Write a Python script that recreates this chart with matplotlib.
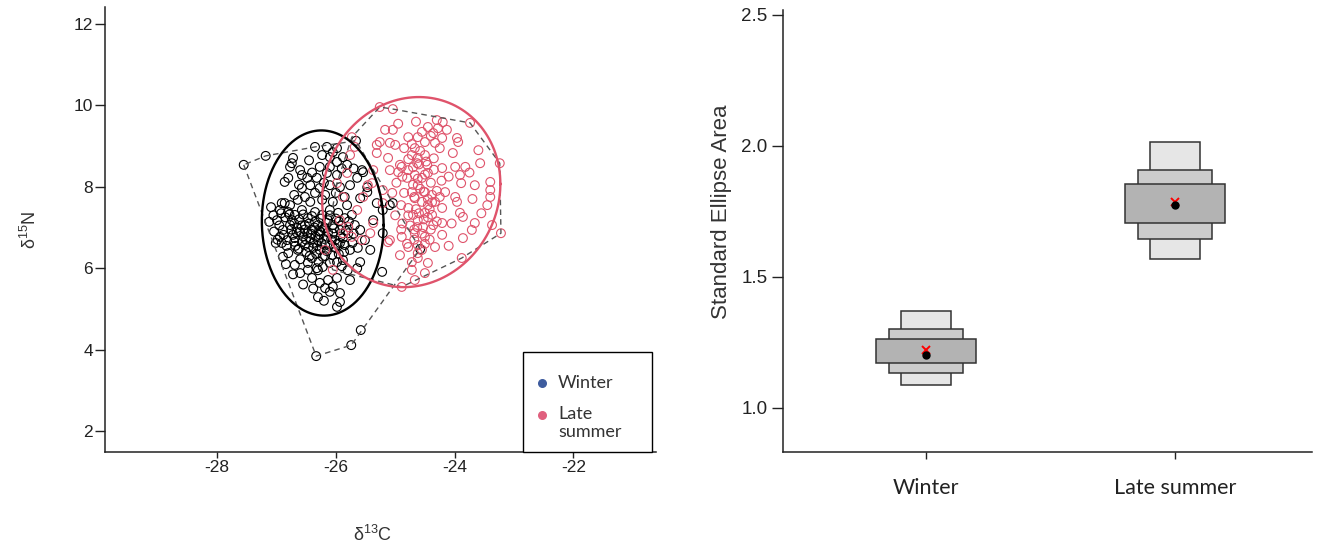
import numpy as np
import matplotlib
matplotlib.use("Agg")
import matplotlib.pyplot as plt
from matplotlib.patches import Rectangle

plt.rcParams["font.family"] = ["Liberation Sans", "DejaVu Sans"]
plt.rcParams["mathtext.default"] = "regular"
plt.rcParams["axes.unicode_minus"] = False

# ==========================
# Stable isotope values per sample
# ==========================
winter_d13c = [
    -27.55, -27.18, -26.35, -25.66, -24.58, -25.58, -25.74, -26.33,
    -26.15, -25.98, -26.23, -26.10, -26.72, -26.74, -26.77, -25.98, -25.88, -25.81,
    -26.10, -26.27, -26.60, -26.57, -26.48, -26.32, -26.15, -25.98, -26.86, -26.80,
    -26.43, -26.57, -26.27, -26.10, -25.93, -25.76, -25.64, -25.54, -25.47, -25.59,
    -26.91, -26.77, -26.64, -26.43, -26.23, -26.05, -25.81,
    -25.37, -25.31, -25.47, -25.56, -25.21, -25.09, -25.21, -25.22, -25.04, -25.59,
    -25.51, -25.42,
    -27.09, -27.12, -27.01, -26.94, -26.99, -26.89, -26.94,
    -26.80, -26.69, -26.57, -26.47, -26.35, -26.23, -26.10, -25.96, -25.85, -25.73,
    -26.77, -26.65, -26.52, -26.40, -26.30, -26.18, -26.05, -25.93, -25.79, -25.68,
    -26.82, -26.69, -26.57, -26.43, -26.30, -26.15, -26.01, -25.88, -26.72, -26.48,
    -26.27, -26.10, -25.93, -25.76, -25.63, -26.91, -26.80, -26.64, -26.38, -26.18,
    -26.01, -26.74, -26.60, -26.35, -26.13, -26.52, -26.27, -25.85,
    -26.89, -26.84, -26.60, -26.47, -26.40, -26.32, -26.22, -26.10, -25.98, -25.88,
    -26.27, -26.13, -25.98, -26.18, -26.10, -25.93, -26.30, -25.93, -25.98, -25.76,
    -25.64, -25.59, -26.06, -26.22, -26.40, -26.47, -26.69,
    -26.62, -26.45, -26.28, -26.55, -26.38, -26.20, -26.05, -26.68, -26.50, -26.33,
    -26.15, -25.95, -26.75, -26.58, -26.42, -26.25, -26.10, -25.95, -26.85, -26.70,
    -26.95, -26.88, -26.83, -26.78, -26.70, -26.66, -26.62, -26.60, -26.55, -26.52,
    -26.50, -26.46, -26.44, -26.40, -26.36, -26.34, -26.31, -26.29, -26.26, -26.24,
    -26.20, -26.18, -26.16, -26.13, -26.11, -26.08, -26.03, -26.00, -25.97, -25.92,
    -25.90, -25.86, -25.83, -25.78, -25.72, -25.70, -26.92, -26.98, -27.04, -27.05,
    -26.86, -26.70, -26.52, -26.35, -26.18, -26.00, -25.85, -26.62, -26.40, -26.20,
    -25.70, -25.90, -26.45, -26.05, -26.55, -26.38, -26.20, -26.05, -25.80, -26.72,
    -26.30, -25.90,
]
winter_d15n = [
    8.54, 8.76, 8.98, 9.13, 6.47, 4.48, 4.11, 3.84,
    8.98, 8.95, 8.78, 8.73, 8.71, 8.58, 8.49, 8.61, 8.73, 8.54,
    8.49, 8.49, 8.41, 8.29, 8.22, 8.22, 8.34, 8.29, 8.12, 8.22,
    8.04, 7.97, 7.97, 8.04, 7.99, 8.04, 8.22, 8.36, 7.87, 7.72,
    7.60, 7.55, 7.68, 7.63, 7.68, 7.63, 7.55,
    7.18, 7.60, 7.99, 8.41, 7.43, 7.55, 6.86, 5.91, 7.60, 6.94,
    6.69, 6.45,
    7.50, 7.14, 6.62, 7.43, 7.18, 6.94, 6.77,
    7.38, 7.31, 7.43, 7.23, 7.38, 7.31, 7.43, 7.36, 7.23, 7.31,
    7.06, 6.99, 7.06, 6.94, 7.06, 6.99, 7.06, 6.94, 6.86, 7.06,
    6.69, 6.74, 6.64, 6.74, 6.69, 6.77, 6.69, 6.74, 6.82, 6.86,
    6.82, 6.59, 6.62, 6.45, 6.50, 6.62, 6.37, 6.45, 6.50, 6.57,
    6.50, 7.18, 6.89, 7.14, 7.18, 6.57, 6.45, 6.57,
    6.28, 6.10, 5.88, 5.96, 5.76, 6.00, 6.03, 6.13, 6.15, 6.20,
    5.64, 5.71, 5.76, 5.51, 5.42, 5.39, 5.29, 5.17, 5.05, 5.71,
    6.00, 6.15, 6.32, 6.28, 6.25, 6.13, 6.08,
    7.20, 7.10, 6.92, 6.78, 6.62, 6.72, 6.85, 6.55, 6.40, 6.35,
    6.42, 6.35, 6.95, 7.05, 6.85, 7.22, 7.30, 7.15, 7.25, 6.65,
    7.05, 6.82, 6.55, 7.32, 7.10, 6.88, 6.48, 6.22, 7.32, 6.95,
    6.70, 6.52, 6.30, 7.28, 7.00, 6.78, 6.55, 6.16, 6.90, 6.62,
    6.98, 6.30, 7.12, 6.88, 6.55, 6.70, 6.98, 7.22, 6.60, 6.78,
    7.05, 6.40, 6.92, 7.15, 6.62, 6.85, 7.35, 6.70, 6.90, 7.30,
    7.60, 7.80, 7.75, 7.85, 7.80, 7.85, 7.75, 8.05, 8.35, 8.10,
    8.45, 8.45, 8.65, 8.85, 5.60, 5.50, 5.20, 5.55, 5.95, 5.85,
    5.95, 6.05,
]

summer_d13c = [
    -25.26, -25.04, -23.74, -23.24, -23.22, -23.88, -24.89, -26.05, -26.18, -25.98, -25.73,
    -24.30, -24.20, -24.45, -24.28, -24.13, -24.36, -24.78, -24.62, -24.50, -24.33,
    -24.21, -25.17, -25.04, -25.26, -25.09, -23.96, -23.94, -24.03, -24.67, -24.72,
    -24.62, -24.50, -24.63, -24.46, -25.12, -24.92, -24.95, -24.78, -24.80, -24.67,
    -24.55, -24.45, -24.21, -23.99, -23.82, -23.57, -23.91, -23.89, -23.66, -23.40,
    -23.40, -23.40, -23.45, -24.16, -24.62, -24.72, -24.50, -24.38, -24.67, -24.55,
    -24.45, -24.33, -24.21, -23.99, -23.96, -23.91, -23.86, -24.78, -24.70, -24.62,
    -24.50, -24.38, -24.63, -24.53, -24.36, -24.21, -23.66, -23.37, -25.31,
    -24.89, -24.67, -24.50, -24.21, -23.86, -23.71, -25.12, -24.78, -24.62, -24.92,
    -24.72, -24.45, -24.62, -24.72, -24.50, -24.67, -24.33,
    -25.00, -25.09, -24.89, -25.39, -25.21, -25.88, -25.93, -25.79, -25.64, -25.54,
    -25.46, -25.37, -25.31, -25.37, -25.42, -25.09, -25.21, -25.68, -25.76, -25.81,
    -25.73, -25.56, -25.88,
    -24.58, -24.48, -24.70, -24.40, -24.58, -24.45, -24.65, -24.52, -24.40, -24.68,
    -24.55, -24.42, -24.75, -24.30, -24.62,
    -24.85, -24.72, -24.55, -24.40, -24.25, -24.35, -24.60, -24.78, -24.88, -24.70,
    -24.50, -24.35, -24.22, -24.10, -24.85, -24.68, -24.52, -24.38, -24.25, -24.90,
    -24.78, -24.60, -24.45, -24.30, -24.88, -24.68, -24.55, -24.42, -24.80, -24.62,
    -24.50, -24.90, -25.00, -25.05, -24.98, -23.75, -23.70, -23.55, -24.05, -24.10,
    -23.60, -24.95, -24.65,
]
summer_d15n = [
    9.96, 9.91, 9.57, 8.58, 6.86, 6.25, 5.54, 5.96, 6.45, 8.09, 9.22,
    9.64, 9.59, 9.47, 9.44, 9.40, 9.32, 9.22, 9.22, 9.10, 9.08,
    9.20, 9.40, 9.40, 9.10, 9.08, 9.20, 9.10, 8.83, 8.95, 8.78,
    8.71, 8.78, 8.58, 8.54, 8.71, 8.54, 8.36, 8.41, 8.22, 8.29,
    8.22, 8.34, 8.46, 8.49, 8.49, 8.58, 8.29, 8.09, 8.04, 8.12,
    7.92, 7.75, 7.55, 7.87, 8.04, 7.87, 7.87, 7.80, 7.72, 7.63,
    7.55, 7.63, 7.48, 7.75, 7.63, 7.36, 7.26, 7.48, 7.31, 7.18,
    7.36, 7.31, 7.01, 7.01, 7.06, 7.11, 7.11, 7.06, 9.03,
    6.77, 6.86, 6.77, 6.82, 6.74, 6.94, 6.64, 6.52, 6.57, 6.32,
    6.15, 6.13, 6.37, 5.96, 5.88, 5.71, 6.52,
    9.03, 8.41, 8.49, 8.09, 7.92, 7.75, 7.18, 7.01, 7.43, 7.75,
    8.04, 8.41, 8.83, 7.11, 6.86, 6.69, 7.60, 8.98, 8.78, 8.34,
    6.77, 6.69, 6.86,
    8.88, 8.62, 8.48, 8.10, 7.95, 7.70, 7.45, 7.20, 6.95, 6.70,
    6.45, 7.45, 7.05, 7.90, 8.20,
    8.95, 9.05, 9.35, 9.25, 8.95, 8.70, 8.55, 8.68, 8.25, 8.05,
    8.30, 8.42, 8.15, 8.25, 7.85, 7.75, 7.88, 7.62, 7.75, 7.55,
    7.30, 7.35, 7.25, 7.15, 7.10, 6.95, 6.85, 6.70, 6.60, 6.25,
    6.60, 6.95, 7.30, 7.85, 8.10, 8.35, 7.70, 7.35, 7.10, 6.55,
    8.90, 9.55, 9.60,
]

# standard ellipses: centre x, centre y, half width, half height, tilt term
winter_ellipse = [-26.22, 7.11, 1.025, 2.275, -0.05]
summer_ellipse = [-24.73, 7.87, 1.50, 2.335, 0.20]

# ==========================
# Bayesian standard ellipse areas
# ==========================
seasons = ["Winter", "Late summer"]
sea_lo95 = [1.088, 1.568]
sea_hi95 = [1.370, 2.014]
sea_lo75 = [1.134, 1.646]
sea_hi75 = [1.302, 1.908]
sea_lo50 = [1.173, 1.705]
sea_hi50 = [1.263, 1.854]
sea_mode = [1.202, 1.775]
sea_c = [1.221, 1.787]

RED = "#DF536B"


def convex_hull(xs, ys):
    pts = sorted(set(zip(xs, ys)))

    def cross(o, a, b):
        return (a[0] - o[0]) * (b[1] - o[1]) - (a[1] - o[1]) * (b[0] - o[0])

    lower, upper = [], []
    for p in pts:
        while len(lower) >= 2 and cross(lower[-2], lower[-1], p) <= 0:
            lower.pop()
        lower.append(p)
    for p in reversed(pts):
        while len(upper) >= 2 and cross(upper[-2], upper[-1], p) <= 0:
            upper.pop()
        upper.append(p)
    hull = lower[:-1] + upper[:-1]
    hull.append(hull[0])
    return np.array(hull)


def ellipse_xy(params):
    cx, cy, a, h, b = params
    d = np.sqrt(h ** 2 - b ** 2)
    t = np.linspace(0, 2 * np.pi, 300)
    return cx + a * np.cos(t), cy + b * np.cos(t) + d * np.sin(t)


W, H = 1319, 550
fig = plt.figure(figsize=(W / 100, H / 100), dpi=100)

# ==========================
# Panel 1 : isotope biplot
# ==========================
ax1 = fig.add_axes([105 / W, 1 - 452 / H, 551 / W, 445 / H])

for xs, ys, col in [(winter_d13c, winter_d15n, "black"),
                    (summer_d13c, summer_d15n, RED)]:
    ax1.scatter(xs, ys, s=40, facecolors="none", edgecolors=col,
                linewidths=0.8, zorder=2)

for xs, ys in [(winter_d13c, winter_d15n), (summer_d13c, summer_d15n)]:
    hull = convex_hull(xs, ys)
    ax1.plot(hull[:, 0], hull[:, 1], color="#555555", lw=1.0,
             dashes=(4, 3), zorder=3)

for params, col in [(winter_ellipse, "black"), (summer_ellipse, RED)]:
    ex, ey = ellipse_xy(params)
    ax1.plot(ex, ey, color=col, lw=1.7, zorder=4)

ax1.set_xlim(-29.885, -20.61)
ax1.set_ylim(1.484, 12.418)
ax1.set_xticks([-28, -26, -24, -22])
ax1.set_yticks([2, 4, 6, 8, 10, 12])
ax1.spines["top"].set_visible(False)
ax1.spines["right"].set_visible(False)
for s in ["left", "bottom"]:
    ax1.spines[s].set_linewidth(1.1)
    ax1.spines[s].set_color("#222222")
ax1.tick_params(axis="y", direction="out", length=7, width=1, labelsize=12.5,
                colors="#222222", pad=1.5)
ax1.tick_params(axis="x", direction="out", length=4, width=1, labelsize=12.5,
                colors="#222222", pad=2)

fig.text(372 / W, 1 - 535 / H, "δ$^{13}$C", ha="center", va="center",
         fontsize=13, color="#333333")
fig.text(30 / W, 1 - 230 / H, "δ$^{15}$N", ha="center", va="center",
         rotation=90, fontsize=13, color="#333333")

# legend box
ax1.add_patch(Rectangle((0.7586, 0.0), 0.234, 0.2247, transform=ax1.transAxes,
                        facecolor="white", edgecolor="black", lw=1.0,
                        zorder=6, clip_on=False))
ax1.scatter([0.793], [0.155], s=30, color="#3E5C9E", transform=ax1.transAxes,
            zorder=7, clip_on=False)
ax1.scatter([0.793], [0.083], s=30, color="#E0607E", transform=ax1.transAxes,
            zorder=7, clip_on=False)
ax1.text(0.822, 0.155, "Winter", transform=ax1.transAxes, va="center",
         fontsize=13, family=["Lato", "DejaVu Sans"], color="#333333", zorder=7)
ax1.text(0.822, 0.104, "Late\nsummer", transform=ax1.transAxes, va="top",
         fontsize=13, family=["Lato", "DejaVu Sans"], color="#333333",
         linespacing=1.2, zorder=7)

# ==========================
# Panel 2 : SEA credible intervals
# ==========================
ax2 = fig.add_axes([783 / W, 1 - 452 / H, 529 / W, 442 / H])
xpos = np.arange(1, len(seasons) + 1)

lo95, hi95 = np.array(sea_lo95), np.array(sea_hi95)
lo75, hi75 = np.array(sea_lo75), np.array(sea_hi75)
lo50, hi50 = np.array(sea_lo50), np.array(sea_hi50)

ax2.bar(xpos, hi95 - lo95, bottom=lo95, width=0.20, color="#E6E6E6",
        edgecolor="#333333", linewidth=1.1, zorder=2)
ax2.bar(xpos, hi75 - lo75, bottom=lo75, width=0.30, color="#CCCCCC",
        edgecolor="#333333", linewidth=1.1, zorder=3)
ax2.bar(xpos, hi50 - lo50, bottom=lo50, width=0.40, color="#B3B3B3",
        edgecolor="#333333", linewidth=1.1, zorder=4)
ax2.plot(xpos, sea_c, ls="", marker="x", color="red", ms=6, mew=1.4, zorder=5)
ax2.plot(xpos, sea_mode, ls="", marker="o", color="black", ms=5, zorder=6)

ax2.set_xlim(0.426, 2.550)
ax2.set_ylim(0.832, 2.519)
ax2.set_yticks([1.0, 1.5, 2.0, 2.5])
ax2.set_yticklabels(["1.0", "1.5", "2.0", "2.5"])
ax2.set_xticks(xpos)
ax2.set_xticklabels(seasons, family=["Lato", "DejaVu Sans"], fontsize=15.5,
                    color="#333333")
ax2.spines["top"].set_visible(False)
ax2.spines["right"].set_visible(False)
for s in ["left", "bottom"]:
    ax2.spines[s].set_linewidth(1.1)
    ax2.spines[s].set_color("#222222")
ax2.tick_params(axis="y", direction="out", length=8, width=1, labelsize=13.5,
                colors="#222222", pad=3)
ax2.tick_params(axis="x", direction="out", length=5, width=1, pad=14,
                colors="#222222")

fig.text(722 / W, 1 - 212 / H, "Standard Ellipse Area", ha="center",
         va="center", rotation=90, fontsize=16, color="#333333")

fig.savefig("out.png", dpi=100)
